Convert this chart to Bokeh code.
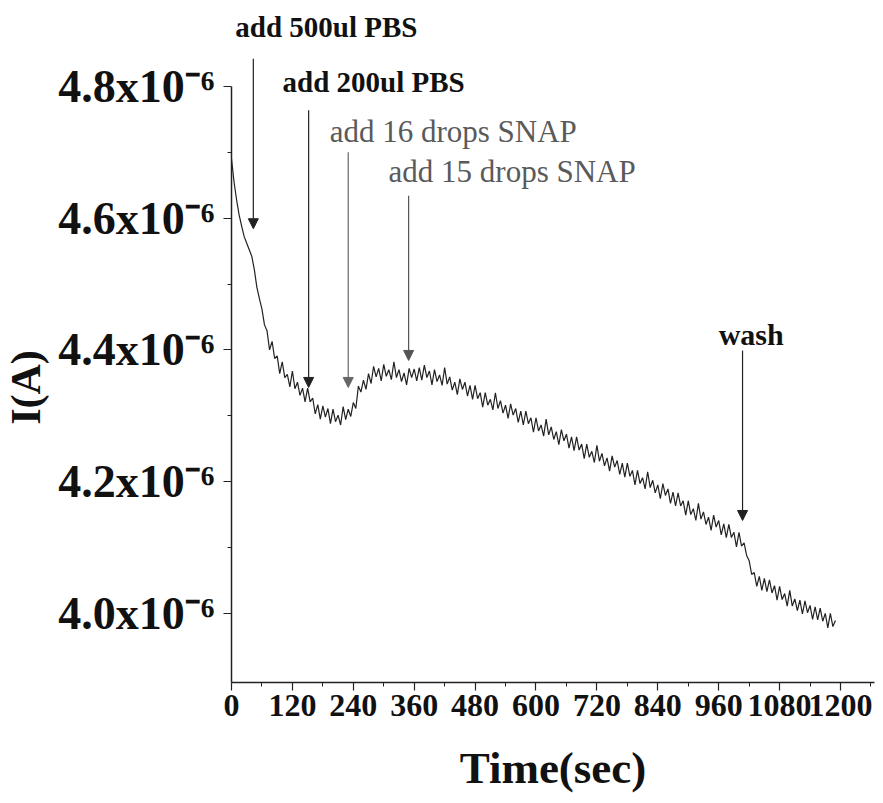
from bokeh.plotting import figure
from bokeh.models import Arrow, NormalHead, Label, FixedTicker, Range1d
from bokeh.embed import file_html
from bokeh.resources import INLINE

# ---------------- data ----------------
# sampling grid of the recorded trace (seconds)
time_s = list(range(0, 1195, 5))
current_e6 = [
    4.690, 4.655, 4.628, 4.605, 4.588, 4.572, 4.562, 4.552, 4.542, 4.522,
    4.495, 4.478, 4.462, 4.438, 4.429, 4.400, 4.413, 4.387, 4.391, 4.364,
    4.382, 4.358, 4.363, 4.344, 4.368, 4.341, 4.351, 4.331, 4.342, 4.321,
    4.342, 4.321, 4.327, 4.303, 4.317, 4.295, 4.315, 4.298, 4.311, 4.288,
    4.310, 4.291, 4.301, 4.286, 4.314, 4.294, 4.310, 4.299, 4.320, 4.311,
    4.345, 4.336, 4.354, 4.340, 4.364, 4.349, 4.375, 4.359, 4.372, 4.353,
    4.378, 4.360, 4.370, 4.355, 4.382, 4.358, 4.370, 4.352, 4.365, 4.347,
    4.372, 4.358, 4.371, 4.353, 4.373, 4.354, 4.377, 4.358, 4.368, 4.347,
    4.370, 4.352, 4.362, 4.346, 4.373, 4.348, 4.359, 4.339, 4.351, 4.332,
    4.356, 4.340, 4.351, 4.330, 4.346, 4.325, 4.346, 4.326, 4.335, 4.313,
    4.335, 4.316, 4.325, 4.309, 4.335, 4.311, 4.323, 4.304, 4.316, 4.296,
    4.318, 4.301, 4.311, 4.290, 4.307, 4.286, 4.307, 4.288, 4.297, 4.275,
    4.297, 4.277, 4.286, 4.269, 4.295, 4.271, 4.283, 4.264, 4.276, 4.256,
    4.279, 4.262, 4.272, 4.251, 4.268, 4.247, 4.268, 4.248, 4.257, 4.235,
    4.257, 4.237, 4.246, 4.229, 4.255, 4.231, 4.243, 4.224, 4.236, 4.216,
    4.239, 4.222, 4.232, 4.211, 4.228, 4.207, 4.228, 4.208, 4.217, 4.195,
    4.217, 4.197, 4.206, 4.189, 4.215, 4.191, 4.202, 4.183, 4.195, 4.174,
    4.197, 4.179, 4.189, 4.167, 4.184, 4.163, 4.183, 4.163, 4.171, 4.149,
    4.171, 4.150, 4.159, 4.141, 4.167, 4.143, 4.154, 4.135, 4.146, 4.126,
    4.149, 4.131, 4.141, 4.119, 4.136, 4.115, 4.135, 4.115, 4.123, 4.101,
    4.123, 4.102, 4.107, 4.088, 4.080, 4.059, 4.062, 4.041, 4.056, 4.035,
    4.053, 4.033, 4.051, 4.031, 4.042, 4.020, 4.041, 4.021, 4.030, 4.011,
    4.035, 4.011, 4.022, 4.004, 4.020, 3.999, 4.019, 4.001, 4.012, 3.991,
    4.010, 3.990, 4.008, 3.988, 4.000, 3.978, 4.000, 3.980, 3.989,
]

x_ticks = [0, 120, 240, 360, 480, 600, 720, 840, 960, 1080, 1200]
x_minor_ticks = [60, 180, 300, 420, 540, 660, 780, 900, 1020, 1140, 1260]
y_ticks = [4.0, 4.2, 4.4, 4.6, 4.8]
y_minor_ticks = [4.1, 4.3, 4.5, 4.7]
y_tick_labels = ["4.0x10\u207b\u2076", "4.2x10\u207b\u2076", "4.4x10\u207b\u2076",
                 "4.6x10\u207b\u2076", "4.8x10\u207b\u2076"]

# experiment events: label, time (s), level of the arrow tip (1e-6 A)
event_labels = ["add 500ul PBS", "add 200ul PBS", "add 16 drops SNAP",
                "add 15 drops SNAP", "wash"]
event_time = [43, 152, 230, 349, 1007]
event_tip = [4.584, 4.343, 4.343, 4.384, 4.141]

# ---------------- layout / style ----------------
arrow_top = [4.842, 4.764, 4.700, 4.634, 4.399]
label_x = [187, 280, 437, 553, 1024]
label_y = [4.890, 4.807, 4.732, 4.671, 4.424]
label_size = ["29px", "29px", "31px", "31px", "30px"]
label_color = ["#111111", "#111111", "#5a5a5a", "#5a5a5a", "#111111"]
label_weight = ["bold", "bold", "normal", "normal", "bold"]
arrow_color = ["#222222", "#222222", "#666666", "#555555", "#222222"]

SERIF = "Liberation Serif"

# the y range reaches above 4.8e-6 to give room to the event labels;
# the axis line itself stops at the 4.8e-6 tick (bounds)
p = figure(width=875, height=803, output_backend="svg", toolbar_location=None,
           x_range=Range1d(0, 1267), y_range=Range1d(3.895, 4.9184),
           min_border_left=229, min_border_right=1, min_border_top=8,
           min_border_bottom=121)
p.outline_line_color = None
p.grid.visible = False
p.background_fill_color = "white"
p.border_fill_color = "white"

p.line(time_s, current_e6, line_color="#222222", line_width=1.2)

# axes
xa = p.xaxis[0]
xa.ticker = FixedTicker(ticks=x_ticks, minor_ticks=x_minor_ticks)
xa.axis_label = "Time(sec)"
ya = p.yaxis[0]
ya.ticker = FixedTicker(ticks=y_ticks, minor_ticks=y_minor_ticks)
ya.major_label_overrides = {v: s for v, s in zip(y_ticks, y_tick_labels)}
# non-breaking padding keeps the title centred on the drawn part of the axis
ya.axis_label = "I(A)" + "\u00a0" * 8
ya.bounds = (3.895, 4.8)

for ax in (xa, ya):
    ax.axis_line_color = "#222222"
    ax.axis_line_width = 1.5
    ax.major_tick_line_color = "#222222"
    ax.minor_tick_line_color = "#222222"
    ax.major_tick_line_width = 1.2
    ax.major_tick_in = 0
    ax.major_tick_out = 8
    ax.minor_tick_in = 0
    ax.minor_tick_out = 4
    ax.major_label_text_font = SERIF
    ax.major_label_text_font_style = "bold"
    ax.major_label_text_color = "#111111"
    ax.axis_label_text_font = SERIF
    ax.axis_label_text_font_style = "bold"
    ax.axis_label_text_color = "#111111"

xa.major_label_text_font_size = "32px"
xa.major_label_standoff = 4
xa.axis_label_text_font_size = "45px"
xa.axis_label_standoff = 24
ya.major_label_text_font_size = "46px"
ya.major_label_standoff = 9
ya.axis_label_text_font_size = "42px"
ya.axis_label_standoff = 6

for i in range(len(event_labels)):
    c = arrow_color[i]
    p.add_layout(Arrow(end=NormalHead(size=10, fill_color=c, line_color=c),
                       line_color=c, line_width=1.2,
                       x_start=event_time[i], y_start=arrow_top[i],
                       x_end=event_time[i], y_end=event_tip[i]))
    p.add_layout(Label(x=label_x[i], y=label_y[i], text=event_labels[i],
                       text_align="center", text_baseline="middle",
                       text_font=SERIF, text_font_style=label_weight[i],
                       text_font_size=label_size[i], text_color=label_color[i]))

open("out.html", "w").write(file_html(p, INLINE))
